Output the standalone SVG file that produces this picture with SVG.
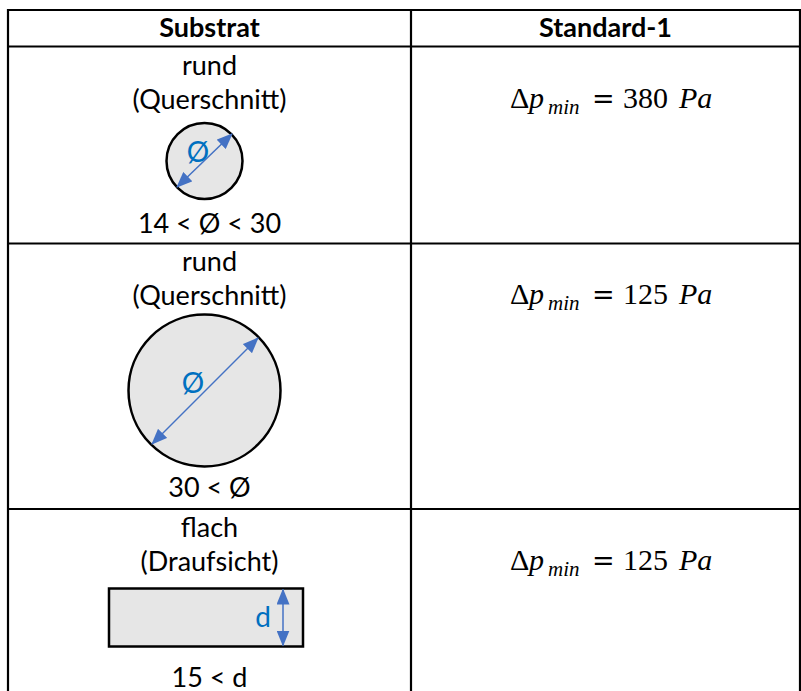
<svg xmlns="http://www.w3.org/2000/svg" width="801" height="691" viewBox="0 0 801 691">
<defs>
<marker id="ah" viewBox="0 0 16 13" markerWidth="16" markerHeight="13" refX="15" refY="6.5" orient="auto-start-reverse" markerUnits="userSpaceOnUse">
<path d="M0,0 L16,6.5 L0,13 z" fill="#4472C4"/>
</marker>
<style>
.grid{stroke:#000;stroke-width:2.2;fill:none}
.t{font-family:Lato,"Noto Sans",sans-serif;font-size:27px;fill:#000;text-anchor:middle}
.h{font-family:Lato,"Noto Sans",sans-serif;font-size:27px;font-weight:bold;fill:#000;text-anchor:middle}
.shape{fill:#E6E6E6;stroke:#000;stroke-width:2.5}
.dim{stroke:#4472C4;stroke-width:1.5;fill:none}
.sym{font-family:Lato,"Noto Sans",sans-serif;font-size:28px;fill:#0070C0;text-anchor:middle}
.m{font-family:"Liberation Serif","DejaVu Serif",serif;font-size:30px;fill:#000}
.i{font-style:italic}
.eq{font-family:"DejaVu Serif",serif;font-size:27px}
</style>
</defs>
<rect width="801" height="691" fill="#fff"/>
<g id="table" class="grid">
<line x1="8" y1="10" x2="800" y2="10"/>
<line x1="8" y1="46.5" x2="800" y2="46.5"/>
<line x1="8" y1="243.5" x2="800" y2="243.5"/>
<line x1="8" y1="509" x2="800" y2="509"/>
<line x1="8" y1="9" x2="8" y2="691"/>
<line x1="411" y1="9" x2="411" y2="691"/>
<line x1="800" y1="9" x2="800" y2="691"/>
</g>
<g id="header">
<text class="h" x="209.5" y="37">Substrat</text>
<text class="h" x="605.5" y="37">Standard-1</text>
</g>
<g id="row1">
<text class="t" x="209.5" y="75">rund</text>
<text class="t" x="209.5" y="109">(Querschnitt)</text>
<circle class="shape" cx="204.5" cy="161" r="38"/>
<text class="sym" x="198" y="162">Ø</text>
<text class="t" x="209.5" y="233">14 &lt; Ø &lt; 30</text>
<text class="m" y="108"><tspan x="510">Δ</tspan><tspan class="i" x="529">p</tspan><tspan class="i" x="548" y="114" font-size="21">min</tspan><tspan class="eq" x="592" y="108">=</tspan><tspan x="623">380</tspan><tspan class="i" x="679">Pa</tspan></text>
</g>
<g id="row2">
<text class="t" x="209.5" y="271">rund</text>
<text class="t" x="209.5" y="305">(Querschnitt)</text>
<circle class="shape" cx="204.5" cy="390.5" r="76"/>
<text class="sym" x="193" y="393">Ø</text>
<text class="t" x="209.5" y="497">30 &lt; Ø</text>
<text class="m" y="304"><tspan x="510">Δ</tspan><tspan class="i" x="529">p</tspan><tspan class="i" x="548" y="310" font-size="21">min</tspan><tspan class="eq" x="592" y="304">=</tspan><tspan x="623">125</tspan><tspan class="i" x="679">Pa</tspan></text>
</g>
<g id="row3">
<text class="t" x="209.5" y="537">flach</text>
<text class="t" x="209.5" y="571">(Draufsicht)</text>
<rect class="shape" x="109" y="588.5" width="194" height="58"/>
<text class="sym" x="263" y="627">d</text>
<text class="t" x="209.5" y="687">15 &lt; d</text>
<text class="m" y="570"><tspan x="510">Δ</tspan><tspan class="i" x="529">p</tspan><tspan class="i" x="548" y="576" font-size="21">min</tspan><tspan class="eq" x="592" y="570">=</tspan><tspan x="623">125</tspan><tspan class="i" x="679">Pa</tspan></text>
</g>
<g id="connectors">
<line class="dim" x1="177" y1="187" x2="232" y2="134" marker-start="url(#ah)" marker-end="url(#ah)"/>
<line class="dim" x1="152" y1="444" x2="258" y2="338" marker-start="url(#ah)" marker-end="url(#ah)"/>
<line class="dim" x1="283" y1="589.5" x2="283" y2="645.5" marker-start="url(#ah)" marker-end="url(#ah)"/>
</g>
</svg>
